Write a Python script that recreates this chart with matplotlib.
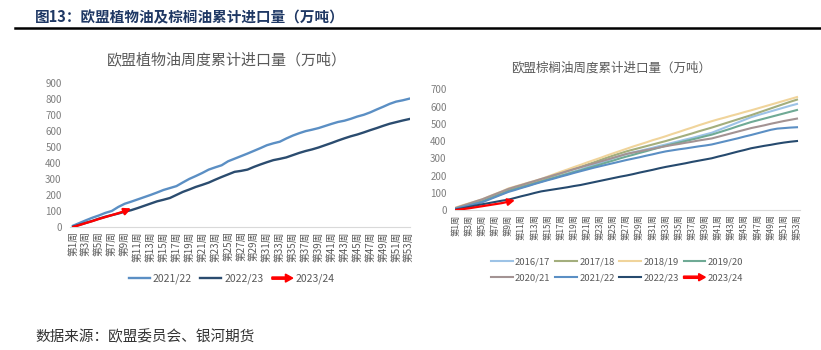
import numpy as np
import matplotlib
matplotlib.use('Agg')
import matplotlib.pyplot as plt
import matplotlib.patches as mpatches
from matplotlib.lines import Line2D
from matplotlib.legend_handler import HandlerPatch
from matplotlib import font_manager

plt.rcParams['font.family'] = ['Noto Sans CJK SC', 'DejaVu Sans']

# 凡例の数字は細めのフォント (なければ Noto)
names = {f.name for f in font_manager.fontManager.ttflist}
legend_family = ['Liberation Sans Narrow'] if 'Liberation Sans Narrow' in names else ['Noto Sans CJK SC']

# 周
weeks = list(range(1, 54))
week_labels = ['第%d周' % w for w in weeks[::2]]

# 左図: 欧盟植物油
veg_2122 = [8, 25, 42, 58, 72, 88, 100, 125, 145, 158, 172, 186, 200, 215, 231, 243, 255, 278,
            300, 318, 337, 358, 372, 385, 410, 426, 442, 458, 475, 492, 510, 522, 532, 552, 570,
            585, 598, 607, 617, 630, 643, 655, 663, 675, 689, 700, 715, 733, 750, 768, 782, 790, 800]
veg_2223 = [2, 14, 26, 38, 52, 64, 74, 84, 95, 105, 118, 132, 146, 160, 170, 181, 200, 219,
            234, 250, 263, 277, 295, 312, 328, 344, 350, 358, 375, 390, 404, 417, 425, 434, 448,
            462, 474, 484, 496, 510, 524, 539, 553, 566, 577, 590, 604, 617, 631, 644, 654, 664, 673]
veg_2324 = [0, 12, 25, 37, 50, 62, 74, 86, 99, 116]

# 右図: 欧盟棕榈油
palm_1617 = [8, 18, 28, 38, 48, 63, 78, 93, 108, 120, 131, 142, 154, 165, 177, 188, 200, 212,
             223, 235, 248, 261, 274, 287, 300, 313, 325, 334, 343, 352, 361, 371, 380, 390, 399,
             409, 418, 428, 438, 448, 463, 478, 493, 508, 523, 538, 550, 561, 572, 583, 594, 605, 615]
palm_1718 = [10, 22, 33, 44, 55, 71, 86, 102, 118, 130, 141, 152, 164, 175, 188, 200, 213, 225,
             238, 250, 263, 276, 290, 303, 316, 328, 340, 350, 360, 370, 380, 390, 400, 411, 422,
             433, 444, 456, 467, 478, 490, 502, 514, 526, 538, 550, 563, 576, 589, 602, 615, 628, 640]
palm_1819 = [15, 27, 39, 50, 62, 78, 93, 108, 125, 136, 147, 158, 169, 180, 194, 208, 222, 235,
             249, 262, 276, 289, 302, 316, 329, 342, 355, 368, 380, 392, 405, 416, 428, 441, 453,
             466, 478, 491, 503, 515, 526, 536, 547, 557, 568, 578, 589, 600, 611, 622, 633, 644, 655]
palm_1920 = [10, 20, 30, 40, 50, 65, 80, 95, 110, 121, 132, 143, 154, 165, 176, 187, 198, 209,
             220, 230, 242, 253, 264, 276, 287, 299, 310, 320, 331, 341, 352, 362, 373, 382, 391,
             400, 409, 418, 428, 437, 449, 461, 473, 486, 498, 510, 520, 530, 540, 550, 560, 570, 580]
palm_2021 = [12, 25, 37, 50, 62, 77, 92, 107, 122, 134, 145, 157, 168, 180, 191, 203, 214, 226,
             237, 248, 259, 270, 281, 292, 303, 314, 325, 333, 340, 348, 355, 363, 370, 377, 383,
             390, 396, 403, 409, 415, 425, 435, 445, 455, 465, 475, 483, 491, 500, 508, 516, 523, 530]
palm_2122 = [8, 17, 26, 36, 45, 60, 75, 90, 105, 116, 128, 139, 151, 162, 173, 183, 194, 204,
             215, 225, 235, 245, 254, 263, 272, 281, 290, 298, 306, 315, 323, 332, 340, 346, 352,
             357, 363, 369, 374, 380, 389, 398, 407, 416, 426, 435, 445, 455, 465, 472, 475, 478, 480]
palm_2223 = [3, 10, 18, 26, 33, 40, 47, 54, 60, 70, 80, 89, 99, 108, 114, 120, 126, 132,
             139, 145, 153, 161, 169, 177, 185, 193, 200, 208, 217, 225, 233, 242, 250, 257, 264,
             271, 279, 286, 293, 300, 310, 319, 329, 339, 348, 358, 365, 372, 378, 385, 391, 396, 400]
palm_2324 = [0, 5, 10, 16, 22, 28, 34, 40, 48, 57]

palm_series = [('2016/17', palm_1617, '#9DC3E6'),
               ('2017/18', palm_1718, '#A3AE7D'),
               ('2018/19', palm_1819, '#F0D49B'),
               ('2019/20', palm_1920, '#6FAA95'),
               ('2020/21', palm_2021, '#A39393'),
               ('2021/22', palm_2122, '#5B8FC4'),
               ('2022/23', palm_2223, '#264A6E')]

gray = '#595959'


def make_arrow(legend, orig_handle, xdescent, ydescent, width, height, fontsize):
    return mpatches.FancyArrow(0, height / 2, width, 0, width=1.6, length_includes_head=True,
                               head_width=height * 1.1, head_length=height * 1.0,
                               color='red', lw=0)


def style_axes(ax, ymax, xmin, xmax, fs):
    ax.set_ylim(0, ymax)
    ax.set_xlim(xmin, xmax)
    ax.set_yticks(range(0, ymax + 1, 100))
    ax.set_xticks(weeks[::2])
    ax.set_xticklabels(week_labels, rotation=90, fontsize=fs, color=gray)
    ax.tick_params(axis='y', length=0, labelsize=7, labelcolor='#7F7F7F', pad=6)
    ax.tick_params(axis='x', length=0, pad=3)
    for s in ['top', 'right', 'left']:
        ax.spines[s].set_visible(False)
    ax.spines['bottom'].set_color('#D9D9D9')


def draw_red(ax, vals, lw, ms):
    x = weeks[:len(vals)]
    ax.plot(x[:-1], vals[:-1], color='red', lw=lw, solid_capstyle='round', zorder=5)
    ax.annotate('', xy=(x[-1], vals[-1]), xytext=(x[-2], vals[-2]),
                arrowprops=dict(arrowstyle='-|>', color='red', lw=lw, mutation_scale=ms,
                                shrinkA=0, shrinkB=0), zorder=5)


fig = plt.figure(figsize=(8.21, 3.5), dpi=100)

# 見出し
fig.text(35 / 821, 1 - 17 / 350, '图13：欧盟植物油及棕榈油累计进口量（万吨）', fontsize=10.5,
         fontweight='bold', color='#1F3864', va='center', ha='left')
fig.add_artist(Line2D([15 / 821, 1.0], [1 - 28 / 350, 1 - 28 / 350], color='black', lw=1.8))
fig.text(35 / 821, 1 - 337 / 350, '数据来源：欧盟委员会、银河期货', fontsize=10.5,
         color='#333333', va='center', ha='left')

# 左図
ax1 = fig.add_axes([70 / 821, 1 - 227 / 350, 340 / 821, (227 - 82.7) / 350])
ax1.plot(weeks, veg_2122, color='#5B8FC4', lw=1.7, label='2021/22')
ax1.plot(weeks, veg_2223, color='#2B4C6F', lw=1.7, label='2022/23')
draw_red(ax1, veg_2324, 1.7, 10)
style_axes(ax1, 900, 0.53, 53.15, 7)
fig.text(227 / 821, 1 - 60 / 350, '欧盟植物油周度累计进口量（万吨）', fontsize=10.8,
         color=gray, ha='center', va='center')
arrow_l = mpatches.Patch(color='red', label='2023/24')
h1, l1 = ax1.get_legend_handles_labels()
ax1.legend(h1 + [arrow_l], l1 + ['2023/24'], handler_map={arrow_l: HandlerPatch(patch_func=make_arrow)},
           loc='center', bbox_to_anchor=(232 / 821, 1 - 279 / 350), bbox_transform=fig.transFigure,
           ncol=3, frameon=False, prop={'family': legend_family, 'size': 7.5}, labelcolor=gray,
           handlelength=2.0, handletextpad=0.3, columnspacing=0.8)

# 右図
ax2 = fig.add_axes([455 / 821, 1 - 210 / 350, 345 / 821, (210 - 89.3) / 350])
for name, vals, c in palm_series:
    ax2.plot(weeks, vals, color=c, lw=1.5, label=name)
draw_red(ax2, palm_2324, 1.6, 10)
style_axes(ax2, 700, 0.85, 53.46, 6)
fig.text(611 / 821, 1 - 68 / 350, '欧盟棕榈油周度累计进口量（万吨）', fontsize=9,
         color=gray, ha='center', va='center')
arrow_r = mpatches.Patch(color='red', label='2023/24')
h2, l2 = ax2.get_legend_handles_labels()
h2 = h2 + [arrow_r]
l2 = l2 + ['2023/24']
order = [0, 4, 1, 5, 2, 6, 3, 7]
ax2.legend([h2[i] for i in order], [l2[i] for i in order],
           handler_map={arrow_r: HandlerPatch(patch_func=make_arrow)},
           loc='center', bbox_to_anchor=(617 / 821, 1 - 270 / 350), bbox_transform=fig.transFigure,
           ncol=4, frameon=False, prop={'family': legend_family, 'size': 6.8}, labelcolor=gray,
           handlelength=2.3, handletextpad=0.25, columnspacing=0.5, labelspacing=0.75)

fig.savefig('out.png', dpi=100)
